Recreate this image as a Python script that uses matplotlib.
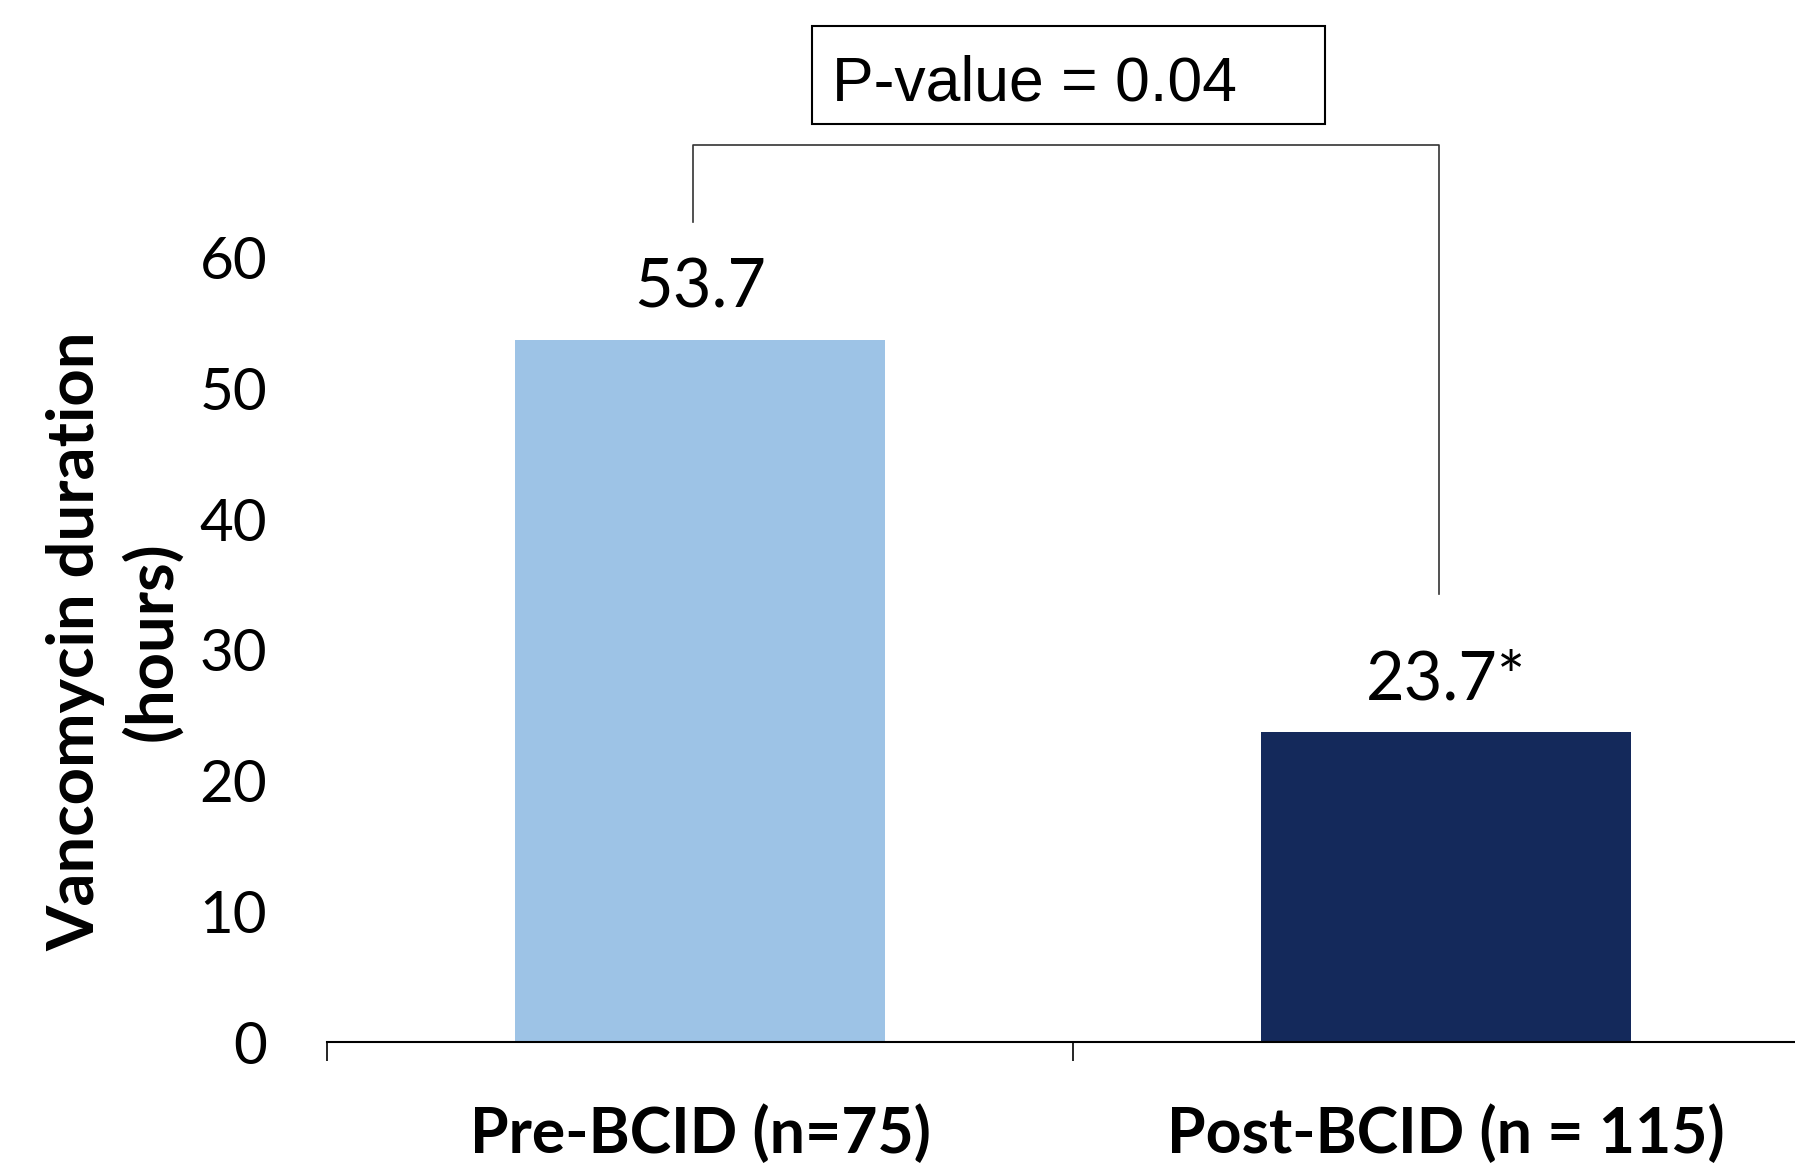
import matplotlib.pyplot as plt
from matplotlib.patches import Rectangle

groups = ["Pre-BCID (n=75)", "Post-BCID (n = 115)"]
hours = [53.7, 23.7]
value_labels = ["53.7", "23.7*"]
bar_colors = ["#9DC3E6", "#14295B"]
y_ticks = [0, 10, 20, 30, 40, 50, 60]
p_text = "P-value = 0.04"

fig = plt.figure(figsize=(17.95, 11.7), dpi=100)
ax = fig.add_axes([0.1822, 0.1094, 0.8312, 0.8906])

x = list(range(len(groups)))
ax.bar(x, hours, width=0.495, color=bar_colors)

ax.set_xlim(-0.5, 1.5)
ax.set_ylim(0, 79.7)

for s in ["top", "right", "left"]:
    ax.spines[s].set_visible(False)
ax.spines["bottom"].set_linewidth(1.5)

ax.set_xticks([-0.5, 0.5, 1.5])
ax.set_xticklabels([])
ax.tick_params(axis="x", direction="out", length=14, width=1.2)

ax.set_yticks(y_ticks)
ax.set_yticklabels([str(t) for t in y_ticks], fontsize=42, family="Lato")
ax.tick_params(axis="y", length=0, pad=43)

# category labels
for xi, g in zip(x, groups):
    ax.text(xi, -0.088, g, transform=ax.get_xaxis_transform(), ha="center", va="center",
            fontsize=45, fontweight="bold", family="Lato")

# value labels
for xi, v, lab in zip(x, hours, value_labels):
    ax.text(xi, v + 1.6, lab, ha="center", va="bottom", fontsize=48, family="Lato")

fig.text(114 / 1795, 1 - 641 / 1170, "Vancomycin duration\n(hours)", rotation=90,
         ha="center", va="center", multialignment="center", fontsize=47,
         fontweight="bold", family="Lato", linespacing=1.3)

# significance bracket
ax.plot([-0.01, -0.01, 0.99, 0.99], [62.7, 68.6, 68.6, 34.3], color="#333333", lw=1.2)

ax.add_patch(Rectangle((0.15, 70.2), 0.688, 7.5, fill=False, edgecolor="black", lw=1.5))
ax.text(0.177, 73.3, p_text, ha="left", va="center", fontsize=45, family="Liberation Sans")

fig.savefig("out.png", dpi=100)
